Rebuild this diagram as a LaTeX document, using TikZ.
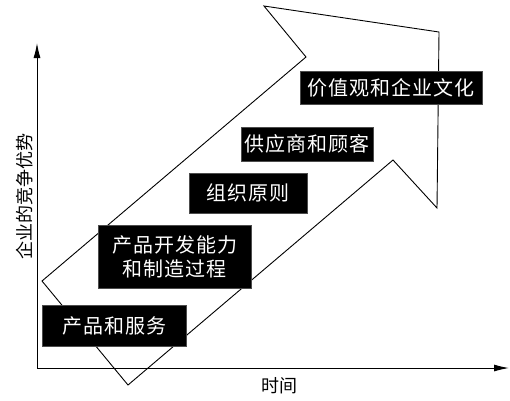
\documentclass[tikz,border=0pt]{standalone}
\usepackage{fontspec}
\usetikzlibrary{arrows.meta}
\newfontfamily\cjk[LetterSpace=5]{Noto Sans CJK SC}
\newfontfamily\cjkaxis{Noto Sans CJK SC}
\begin{document}
\begin{tikzpicture}[x=1pt,y=-1pt,
  blackbox/.style={fill=black,draw=black!70,line width=0.6pt,text=white,inner sep=0pt,
    align=center,font=\cjk\fontsize{20}{24}\selectfont},
  axisline/.style={line width=1pt,-{Latex[length=15pt,width=7pt]}},
  axislabel/.style={font=\cjkaxis\fontsize{18}{20}\selectfont,inner sep=0pt}]
\useasboundingbox (0,0) rectangle (510,400);
% axes
\coordinate (O) at (37,368);
\coordinate (ytip) at (37,43);
\coordinate (xtip) at (509,368);
\draw[axisline] (O) -- (ytip);
\draw[axisline] (O) -- (xtip);
\node[axislabel,rotate=90] (ylab) at (25,196) {企业的竞争优势};
\node[axislabel] (xlab) at (279,386) {时间};
% big arrow outline
\draw[line width=0.9pt,line join=miter]
  (42,281) -- (128,385) -- (393,160) -- (437,208) -- (439,32) -- (264,6) -- (306,57) -- cycle;
% boxes
\node[blackbox,minimum width=182pt,minimum height=33pt] (b1) at (391,87.5) {价值观和企业文化};
\node[blackbox,minimum width=132pt,minimum height=34pt] (b2) at (307,144) {供应商和顾客};
\node[blackbox,minimum width=118pt,minimum height=40pt] (b3) at (248,193) {组织原则};
\node[blackbox,minimum width=153pt,minimum height=63pt] (b4) at (174.5,256.5) {产品开发能力\\和制造过程};
\node[blackbox,minimum width=144pt,minimum height=41pt] (b5) at (114,325.5) {产品和服务};
\end{tikzpicture}
\end{document}
